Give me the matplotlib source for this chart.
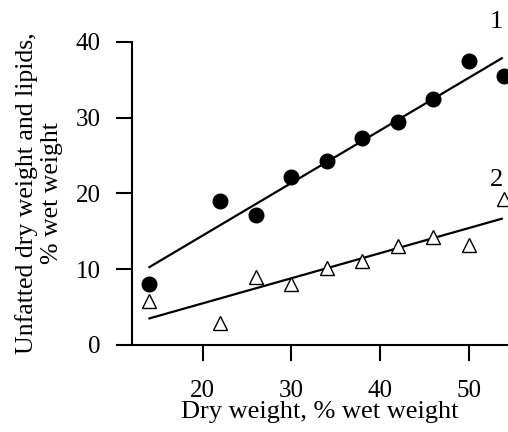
import numpy as np
import matplotlib
matplotlib.use("Agg")
import matplotlib.pyplot as plt

# --- dane ---
dry_weight = [14, 22, 26, 30, 34, 38, 42, 46, 50, 54]
unfatted = [8.0, 19.0, 17.1, 22.2, 24.2, 27.3, 29.4, 32.4, 37.5, 35.5]   # seria 1 (kółka)
lipids = [5.8, 2.9, 9.0, 8.0, 10.1, 11.1, 13.1, 14.2, 13.2, 19.2]        # seria 2 (trójkąty)
x_ticks = [20, 30, 40, 50]
y_ticks = [0, 10, 20, 30, 40]
FIT_END = 53.7  # linie regresji kończą się tuż przed ostatnim punktem

plt.rcParams['font.family'] = ['Liberation Serif', 'DejaVu Serif']

fig = plt.figure(figsize=(5.08, 4.32), dpi=100)
ax = fig.add_axes([0.2593, 0.2014, 0.7407, 0.7021])

x = np.array(dry_weight, dtype=float)
fit_x = np.array([x.min(), FIT_END])

for series in (unfatted, lipids):
    k, b = np.polyfit(x, np.array(series), 1)
    ax.plot(fit_x, k * fit_x + b, color='black', linewidth=1.6, zorder=1, clip_on=False)

ax.plot(x, unfatted, 'o', color='black', markersize=10.5, zorder=2, clip_on=False)
ax.plot(x, lipids, '^', markerfacecolor='white', markeredgecolor='black',
        markeredgewidth=1.0, markersize=9.5, zorder=2, clip_on=False)

# etykiety serii
ax.text(53.1, 42.6, '1', fontsize=19, ha='center', va='center', clip_on=False)
ax.text(53.1, 21.8, '2', fontsize=19, ha='center', va='center', clip_on=False)

ax.set_xlim(12, 54.4)
ax.set_ylim(0, 40)
ax.set_xticks(x_ticks)
ax.set_yticks(y_ticks)
ax.spines['top'].set_visible(False)
ax.spines['right'].set_visible(False)
for s in ('left', 'bottom'):
    ax.spines[s].set_linewidth(1.5)
ax.tick_params(direction='out', length=11.5, width=1.5, labelsize=18)
ax.tick_params(axis='x', pad=14)
ax.tick_params(axis='y', pad=11)

ax.set_xlabel('Dry weight, % wet weight', fontsize=19, labelpad=-1)
ax.set_ylabel('Unfatted dry weight and lipids,\n% wet weight', fontsize=18.5,
              linespacing=1.2, labelpad=9)

fig.savefig('out.png', dpi=100)
